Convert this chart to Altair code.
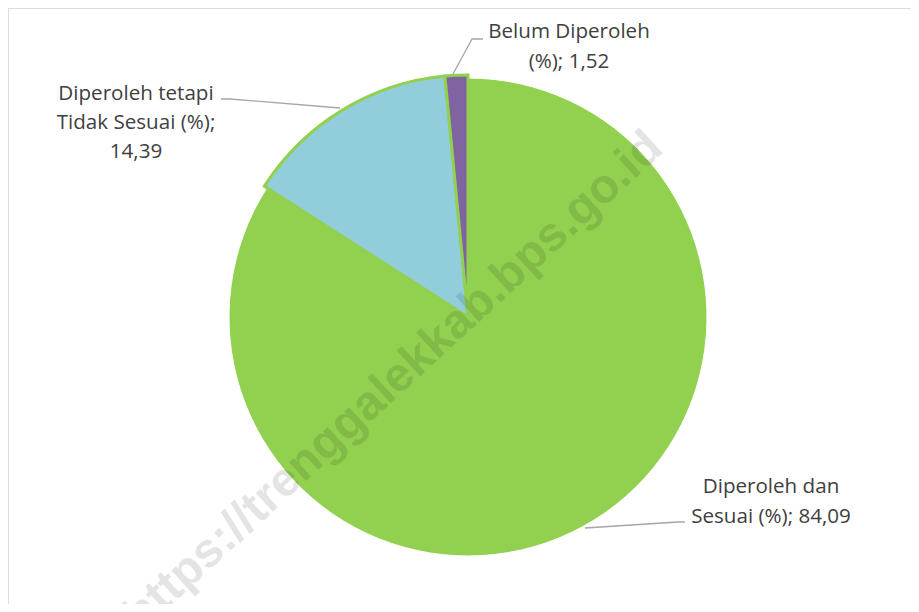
import math
import altair as alt
import pandas as pd

# ---- data ----
categories = ["Diperoleh dan Sesuai (%)", "Diperoleh tetapi Tidak Sesuai (%)", "Belum Diperoleh (%)"]
values = [84.09, 14.39, 1.52]
label_lines = [["Diperoleh dan", "Sesuai (%); 84,09"],
               ["Diperoleh tetapi", "Tidak Sesuai (%);", "14,39"],
               ["Belum Diperoleh", "(%); 1,52"]]
colors = ["#92D050", "#92CDDC", "#8064A2"]
watermark = "https://trenggalekkab.bps.go.id"

# ---- layout (pixels in plot coordinates) ----
W, H = 903, 596
CX, CY = 460, 309
R_MAIN = 239
R_SIDE = 242
label_pos = [(763, 485, 30), (128, 92, 29), (561, 30, 30)]
leaders = [
    [(577, 520), (670, 514), (677, 514)],
    [(332, 100), (222, 91), (213, 91)],
    [(445, 66), (464, 31), (475, 31)],
]

df = pd.DataFrame({
    "category": categories,
    "value": values,
    "order": list(range(len(categories))),
})

base = alt.Chart(df).transform_window(
    cum="sum(value)", sort=[alt.SortField("order")], frame=[None, 0]
).transform_calculate(start="datum.cum - datum.value")

theta_scale = alt.Scale(domain=[0, 100], range=[0, 2 * math.pi])
color = alt.Color("category:N", scale=alt.Scale(domain=categories, range=colors), legend=None)

main = base.transform_filter(alt.datum.order == 0).mark_arc(
    radius=R_MAIN, stroke="white", strokeWidth=1
).encode(
    theta=alt.Theta("start:Q", scale=theta_scale),
    theta2="cum:Q",
    color=color,
    x=alt.value(CX), y=alt.value(CY),
)

side = base.transform_filter(alt.datum.order > 0).mark_arc(
    radius=R_SIDE, stroke="#92D050", strokeWidth=3, strokeJoin="miter"
).encode(
    theta=alt.Theta("start:Q", scale=theta_scale),
    theta2="cum:Q",
    color=color,
    x=alt.value(CX), y=alt.value(CY),
)

# leader lines
lrows = []
for i, pts in enumerate(leaders):
    for j, (px, py) in enumerate(pts):
        lrows.append({"id": i, "k": j, "px": px, "py": py})
leader_layer = alt.Chart(pd.DataFrame(lrows)).mark_line(
    color="#A6A6A6", strokeWidth=1.3
).encode(
    x=alt.X("px:Q", scale=None, axis=None),
    y=alt.Y("py:Q", scale=None, axis=None),
    detail="id:N",
    order="k:Q",
)

# labels
text_layers = []
for lines, (lx, ly, lh) in zip(label_lines, label_pos):
    tdf = pd.DataFrame({"txt": [lines]})
    text_layers.append(
        alt.Chart(tdf).mark_text(
            align="center", baseline="alphabetic", font="Open Sans", fontSize=20.6,
            color="#404040", lineHeight=lh
        ).encode(text="txt", x=alt.value(lx), y=alt.value(ly))
    )

wm = alt.Chart(pd.DataFrame({"t": [watermark]})).mark_text(
    align="center", baseline="alphabetic", font="Liberation Sans", fontWeight="bold",
    fontSize=48, angle=317.4, color="#000000", opacity=0.1
).encode(text="t:N", x=alt.value(395), y=alt.value(384))

frame_top = alt.Chart(df).mark_rule(color="#D9D9D9", strokeWidth=1).encode(
    x=alt.value(0), x2=alt.value(W), y=alt.value(0)
)
frame_left = alt.Chart(df).mark_rule(color="#D9D9D9", strokeWidth=1).encode(
    x=alt.value(0), y=alt.value(0), y2=alt.value(H)
)

chart = alt.layer(
    frame_top, frame_left, main, side, leader_layer, *text_layers, wm
).properties(width=W, height=H, padding=0, autosize="none").configure_view(stroke=None)

chart.save("out.html", embed_options={"renderer": "svg", "actions": False})
